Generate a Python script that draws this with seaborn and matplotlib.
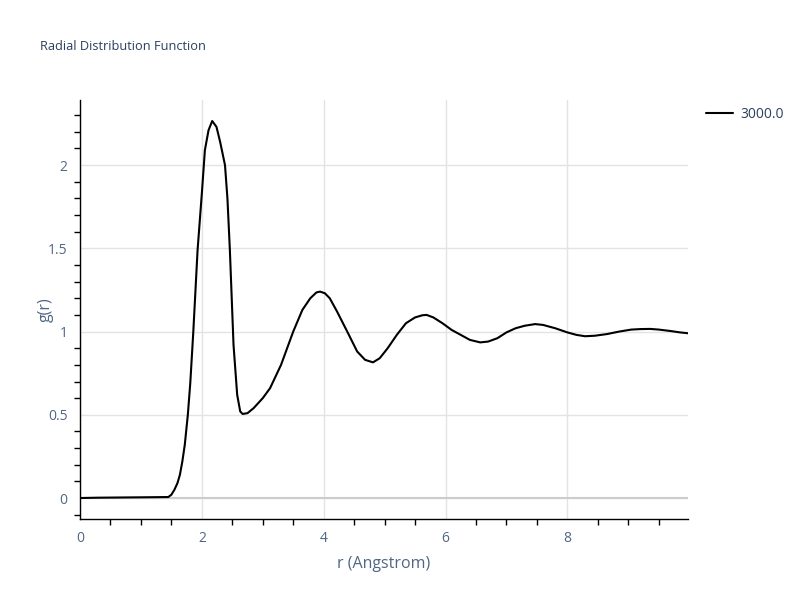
import numpy as np
import pandas as pd
import seaborn as sns
import matplotlib.pyplot as plt
from matplotlib.ticker import MultipleLocator

# valores
r = [0.0, 0.3, 0.6, 0.9, 1.2, 1.45, 1.5, 1.55, 1.6, 1.64, 1.68, 1.72, 1.77, 1.81, 1.86,
     1.93, 2.0, 2.05, 2.11, 2.17, 2.24, 2.3, 2.38, 2.42, 2.46, 2.52, 2.58, 2.63, 2.67,
     2.75, 2.85, 3.0, 3.12, 3.3, 3.5, 3.65, 3.78, 3.88, 3.94, 4.02, 4.1, 4.22, 4.4,
     4.55, 4.68, 4.81, 4.92, 5.05, 5.2, 5.35, 5.5, 5.62, 5.69, 5.8, 5.95, 6.1, 6.25,
     6.4, 6.57, 6.7, 6.85, 7.0, 7.15, 7.3, 7.47, 7.6, 7.8, 8.0, 8.15, 8.29, 8.45,
     8.65, 8.85, 9.05, 9.2, 9.36, 9.5, 9.7, 9.85, 9.98]
g = [0.0, 0.002, 0.003, 0.004, 0.005, 0.006, 0.02, 0.05, 0.09, 0.14, 0.22, 0.32, 0.5,
     0.69, 1.0, 1.49, 1.83, 2.09, 2.21, 2.265, 2.23, 2.14, 2.0, 1.8, 1.49, 0.92, 0.62,
     0.52, 0.505, 0.51, 0.54, 0.6, 0.66, 0.8, 1.0, 1.13, 1.2, 1.235, 1.24, 1.23, 1.2,
     1.12, 0.99, 0.88, 0.83, 0.815, 0.84, 0.9, 0.98, 1.05, 1.085, 1.098, 1.1, 1.085,
     1.05, 1.01, 0.98, 0.95, 0.935, 0.94, 0.96, 0.995, 1.02, 1.035, 1.045, 1.04, 1.02,
     0.995, 0.98, 0.972, 0.975, 0.985, 1.0, 1.012, 1.015, 1.016, 1.012, 1.003, 0.995, 0.99]
serie = '3000.0'

df = pd.DataFrame({'r': r, 'g': g, 'T': serie})

sns.set_style('white')
plt.rcParams['font.family'] = ['Open Sans', 'DejaVu Sans']
color_txt = '#2a3f5f'
color_tick = '#506784'

fig = plt.figure(figsize=(8, 6), dpi=100)
ax = fig.add_axes([0.1, 0.135, 0.76, 0.698])

sns.lineplot(data=df, x='r', y='g', hue='T', palette=['black'], linewidth=1.5, ax=ax, zorder=3)

ax.set_xlim(0, 9.98)
ax.set_ylim(-0.126, 2.39)
ax.xaxis.set_major_locator(MultipleLocator(2))
ax.xaxis.set_minor_locator(MultipleLocator(0.5))
ax.yaxis.set_major_locator(MultipleLocator(0.5))
ax.yaxis.set_minor_locator(MultipleLocator(0.1))
ax.set_yticks([0, 0.5, 1, 1.5, 2])
ax.set_yticklabels(['0', '0.5', '1', '1.5', '2'])
ax.grid(True, which='major', color='#e3e3e3', linewidth=1)
ax.axhline(0, color='#cccccc', linewidth=1.5, zorder=2)

for s in ['top', 'right']:
    ax.spines[s].set_visible(False)
for s in ['left', 'bottom']:
    ax.spines[s].set_color('black')
    ax.spines[s].set_linewidth(1)

ax.tick_params(which='both', direction='out', color='black', labelcolor=color_tick, labelsize=10)
ax.tick_params(which='major', length=5, width=1, pad=4)
ax.tick_params(which='minor', length=4, width=1, left=True, bottom=True)

ax.set_xlabel('r (Angstrom)', color=color_tick, fontsize=11.5, labelpad=7)
ax.set_ylabel('g(r)', color=color_tick, fontsize=11.5)
ax.yaxis.set_label_coords(-0.043, 0.5)
fig.text(0.05, 0.917, 'Radial Distribution Function', color=color_txt, fontsize=9.2)

leg = ax.legend(loc='upper left', bbox_to_anchor=(1.02, 0.997), frameon=False,
                handlelength=2.0, fontsize=10, borderaxespad=0, handletextpad=0.5)
for t in leg.get_texts():
    t.set_color(color_txt)

fig.savefig('out.png', dpi=100)
